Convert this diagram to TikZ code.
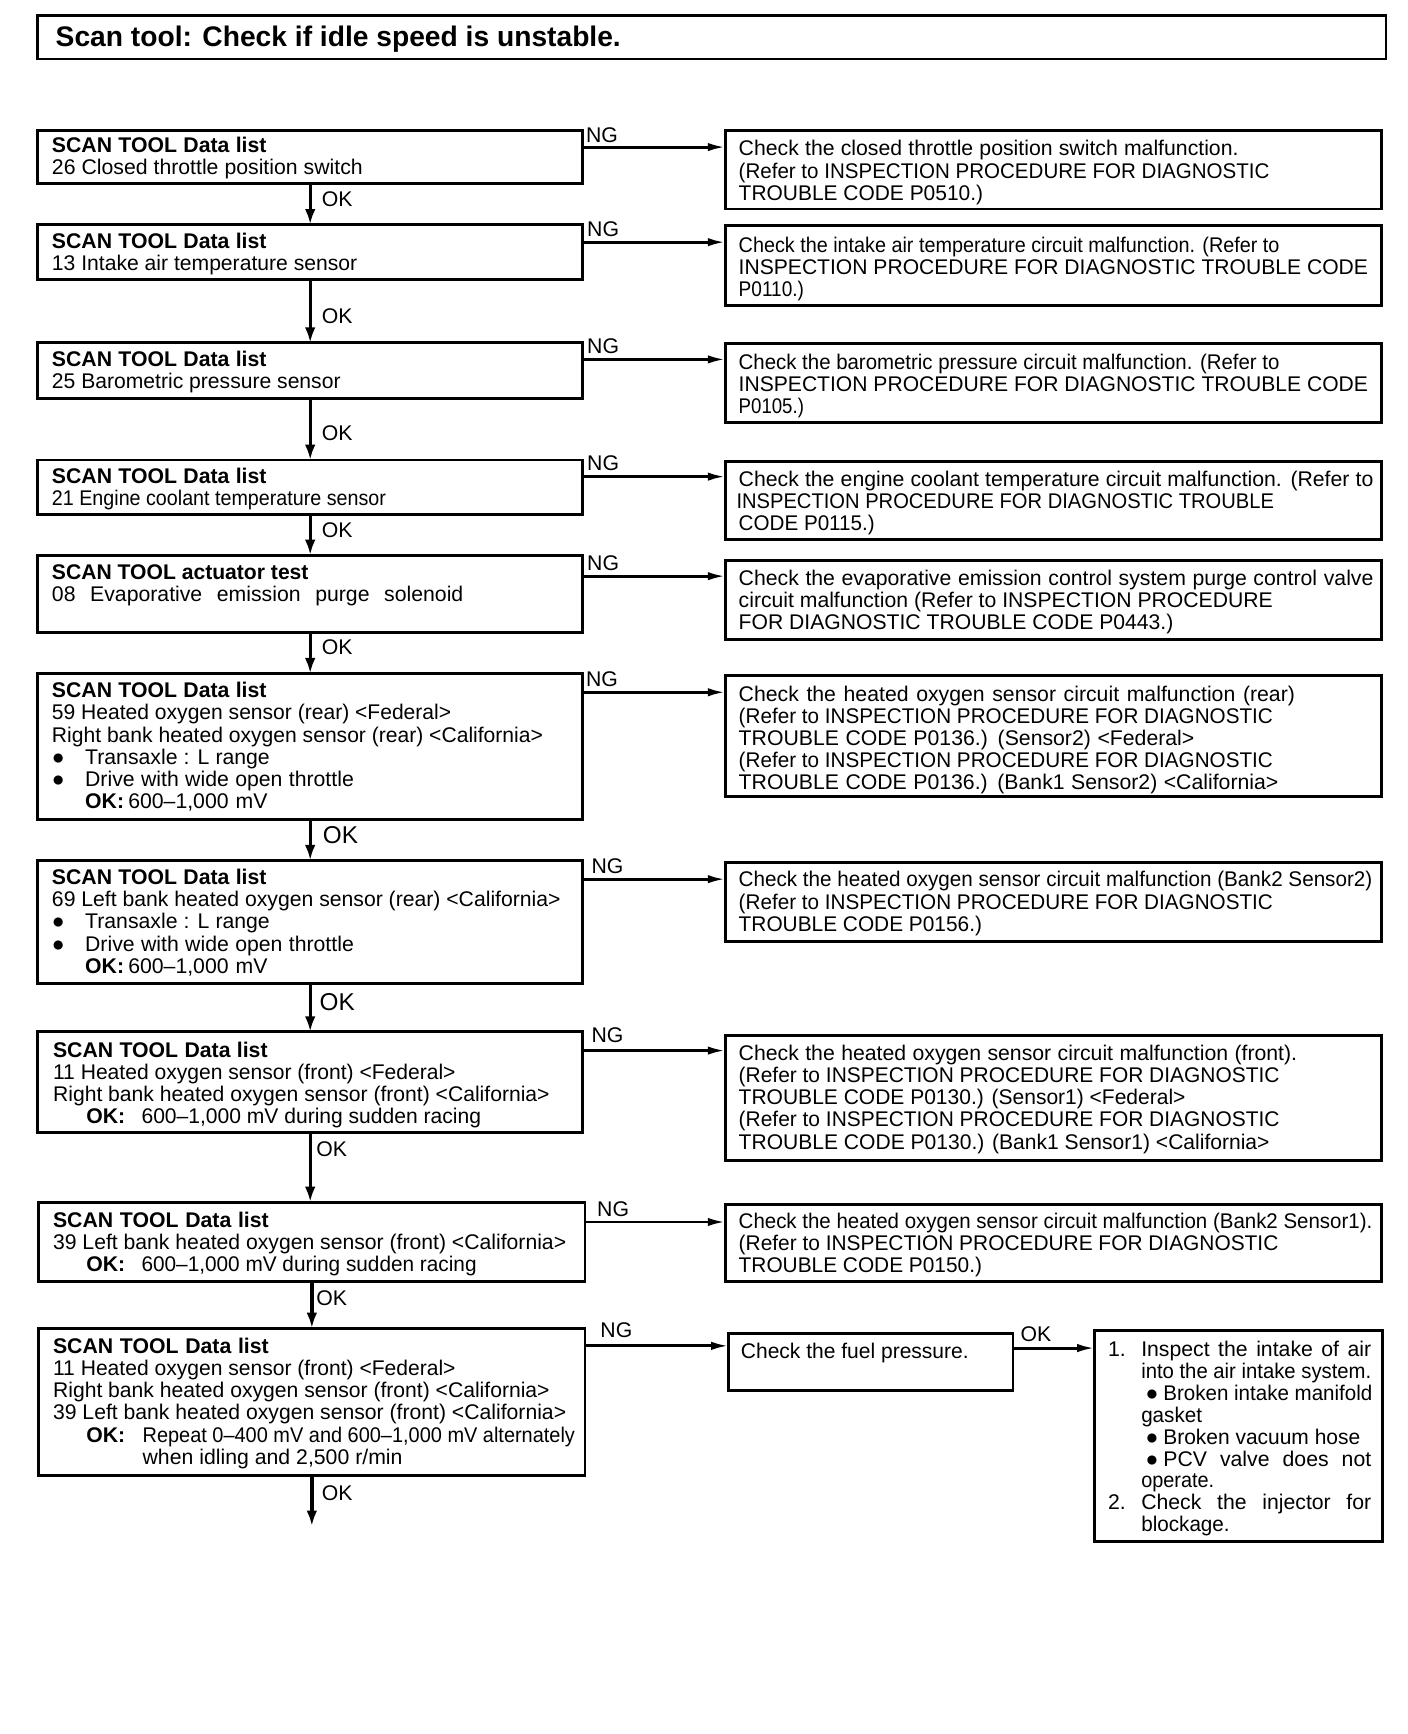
\documentclass[tikz,border=0pt]{standalone}
\usepackage{fontspec}
\setmainfont{Liberation Sans}
\usepackage{graphicx}
\usetikzlibrary{arrows.meta,fit,calc}

\newsavebox\lnbox
\newlength\lnt \newlength\lnw
\newlength\lnA \newlength\lnB \newlength\lnC
\def\lnsx{0}
\newcommand\mybullet{●}
% fit text into a given width: shrink horizontally if too wide, spread spaces if too narrow
\newcommand\fitto[2]{\setlength\lnt{#1}\sbox\lnbox{#2}\setlength\lnw{\wd\lnbox}%
  \ifdim\lnw>\lnt\pgfmathsetmacro\lnff{\lnt/\lnw}\scalebox{\lnff}[1]{\usebox\lnbox}%
  \else\makebox[\lnt][s]{#2}\fi}
% text line from startx to endx (display px)
\newcommand\tline[3]{\pgfmathsetlength\lnA{(#1-\lnsx)*0.5}\pgfmathsetlength\lnB{(#2-#1)*0.5}%
  \hspace*{\lnA}\fitto{\lnB}{#3}}
% bullet line
\newcommand\bline[4]{\pgfmathsetlength\lnA{(#1-\lnsx)*0.5}\pgfmathsetlength\lnB{(#2-#1)*0.5}%
  \pgfmathsetlength\lnC{(#3-#2)*0.5}\hspace*{\lnA}\makebox[\lnB][l]{\mybullet}\fitto{\lnC}{#4}}
% OK line
\newcommand\okline[4]{\pgfmathsetlength\lnA{(#1-\lnsx)*0.5}\pgfmathsetlength\lnB{(#2-#1)*0.5}%
  \pgfmathsetlength\lnC{(#3-#2)*0.5}\hspace*{\lnA}\makebox[\lnB][l]{\textbf{OK:}}\fitto{\lnC}{#4}}
% numbered line
\newcommand\nline[5]{\pgfmathsetlength\lnA{(#1-\lnsx)*0.5}\pgfmathsetlength\lnB{(#2-#1)*0.5}%
  \pgfmathsetlength\lnC{(#3-#2)*0.5}\hspace*{\lnA}\makebox[\lnB][l]{#4}\fitto{\lnC}{#5}}

\newcommand\mkbox[5]{\node[box, fit={(#2,#3) (#4,#5)}] (#1) {};}
\newcommand\mktext[4]{\def\lnsx{#2}\node[txt] (#1) at (#2,#3-18) {\rule{0pt}{9pt}#4};}

\tikzset{
  box/.style={draw, line width=1.3pt, inner sep=0pt, outer sep=0pt},
  txt/.style={anchor=north west, align=left, inner sep=0pt, outer sep=0pt,
    font=\fontsize{9.6}{10}\selectfont},
  lbl/.style={anchor=west, inner sep=0pt, outer sep=0pt, font=\fontsize{9.6}{10}\selectfont},
  biglbl/.style={lbl, font=\fontsize{11}{12}\selectfont},
  okarr/.style={line width=1.5pt, -{Latex[length=7pt,width=4.8pt]}},
  ngarr/.style={line width=1.3pt, -{Latex[length=8pt,width=3.8pt]}}
}

\begin{document}
\begin{tikzpicture}[x=0.5pt,y=-0.5pt]
\fill[white] (0,0) rectangle (1273,1568);
\useasboundingbox (0,0) rectangle (1273,1568);

% title
\node[box, line width=1pt, fit={(34,14) (1253,53)}] (title) {};
\node[anchor=base west, inner sep=0pt, font=\bfseries\fontsize{12.8}{14}\selectfont] (titletext) at (50,42)
  {\fitto{255.5pt}{Scan tool: Check if idle speed is unstable.}};

% left boxes
\mkbox{b1}{34}{118}{527}{166}
\mkbox{b2}{34}{203}{527}{253}
\mkbox{b3}{34}{310}{527}{360}
\mkbox{b4}{34}{416}{527}{465}
\mkbox{b5}{34}{502}{527}{572}
\mkbox{b6}{34}{609}{527}{741}
\mkbox{b7}{34}{778}{527}{889}
\mkbox{b8}{34}{933}{527}{1024}
\mkbox{b9}{35}{1087}{529}{1159}
\mkbox{b10}{35}{1201}{529}{1334}

\mktext{tb1}{47}{138}{\tline{47}{241}{\textbf{SCAN TOOL Data list}}\\
\tline{47}{328}{26 Closed throttle position switch}}
\mktext{tb2}{47}{225}{\tline{47}{241}{\textbf{SCAN TOOL Data list}}\\
\tline{47}{323}{13 Intake air temperature sensor}}
\mktext{tb3}{47}{331}{\tline{47}{241}{\textbf{SCAN TOOL Data list}}\\
\tline{47}{308}{25 Barometric pressure sensor}}
\mktext{tb4}{47}{437}{\tline{47}{241}{\textbf{SCAN TOOL Data list}}\\
\tline{47}{349}{21 Engine coolant temperature sensor}}
\mktext{tb5}{47}{524}{\tline{47}{279}{\textbf{SCAN TOOL actuator test}}\\
\tline{47}{419}{08 Evaporative emission purge solenoid}}
\mktext{tb6}{47}{631}{\tline{47}{241}{\textbf{SCAN TOOL Data list}}\\
\tline{47}{408}{59 Heated oxygen sensor (rear) <Federal>}\\
\tline{47}{491}{Right bank heated oxygen sensor (rear) <California>}\\
\bline{47}{77}{244}{Transaxle : L range}\\
\bline{47}{77}{320}{Drive with wide open throttle}\\
\okline{77}{116}{242}{600–1,000 mV}}
\mktext{tb7}{47}{800}{\tline{47}{241}{\textbf{SCAN TOOL Data list}}\\
\tline{47}{507}{69 Left bank heated oxygen sensor (rear) <California>}\\
\bline{47}{77}{244}{Transaxle : L range}\\
\bline{47}{77}{320}{Drive with wide open throttle}\\
\okline{77}{116}{242}{600–1,000 mV}}
\mktext{tb8}{48}{956}{\tline{48}{242}{\textbf{SCAN TOOL Data list}}\\
\tline{48}{412}{11 Heated oxygen sensor (front) <Federal>}\\
\tline{48}{497}{Right bank heated oxygen sensor (front) <California>}\\
\okline{78}{128}{435}{600–1,000 mV during sudden racing}}
\mktext{tb9}{48}{1110}{\tline{48}{243}{\textbf{SCAN TOOL Data list}}\\
\tline{48}{512}{39 Left bank heated oxygen sensor (front) <California>}\\
\okline{78}{128}{431}{600–1,000 mV during sudden racing}}
\mktext{tb10}{48}{1224}{\tline{48}{243}{\textbf{SCAN TOOL Data list}}\\
\tline{48}{412}{11 Heated oxygen sensor (front) <Federal>}\\
\tline{48}{497}{Right bank heated oxygen sensor (front) <California>}\\
\tline{48}{512}{39 Left bank heated oxygen sensor (front) <California>}\\
\okline{78}{129}{520}{Repeat 0–400 mV and 600–1,000 mV alternately}\\
\tline{129}{364}{when idling and 2,500 r/min}}

% right boxes
\mkbox{r1}{656}{118}{1249}{189}
\mkbox{r2}{656}{204}{1249}{276}
\mkbox{r3}{656}{311}{1249}{382}
\mkbox{r4}{656}{417}{1249}{488}
\mkbox{r5}{656}{507}{1249}{578}
\mkbox{r6}{656}{611}{1249}{720}
\mkbox{r7}{656}{780}{1249}{851}
\mkbox{r8}{656}{936}{1249}{1049}
\mkbox{r9}{656}{1089}{1249}{1159}
\mkbox{fuel}{659}{1206}{916}{1257}
\mkbox{fin}{990}{1203}{1250}{1394}

\mktext{tr1}{668}{141}{\tline{668}{1120}{Check the closed throttle position switch malfunction.}\\
\tline{668}{1148}{(Refer to INSPECTION PROCEDURE FOR DIAGNOSTIC}\\
\tline{668}{889}{TROUBLE CODE P0510.)}}
\mktext{tr2}{668}{228}{\tline{668}{1157}{Check the intake air temperature circuit malfunction. (Refer to}\\
\tline{668}{1237}{INSPECTION PROCEDURE FOR DIAGNOSTIC TROUBLE CODE}\\
\tline{668}{727}{P0110.)}}
\mktext{tr3}{668}{334}{\tline{668}{1157}{Check the barometric pressure circuit malfunction. (Refer to}\\
\tline{668}{1237}{INSPECTION PROCEDURE FOR DIAGNOSTIC TROUBLE CODE}\\
\tline{668}{727}{P0105.)}}
\mktext{tr4}{668}{440}{\tline{668}{1242}{Check the engine coolant temperature circuit malfunction. (Refer to}\\
\tline{666}{1152}{INSPECTION PROCEDURE FOR DIAGNOSTIC TROUBLE}\\
\tline{668}{791}{CODE P0115.)}}
\mktext{tr5}{668}{529}{\tline{668}{1242}{Check the evaporative emission control system purge control valve}\\
\tline{668}{1151}{circuit malfunction (Refer to INSPECTION PROCEDURE}\\
\tline{668}{1061}{FOR DIAGNOSTIC TROUBLE CODE P0443.)}}
\mktext{tr6}{668}{634}{\tline{668}{1171}{Check the heated oxygen sensor circuit malfunction (rear)}\\
\tline{668}{1151}{(Refer to INSPECTION PROCEDURE FOR DIAGNOSTIC}\\
\tline{668}{1080}{TROUBLE CODE P0136.) (Sensor2) <Federal>}\\
\tline{668}{1151}{(Refer to INSPECTION PROCEDURE FOR DIAGNOSTIC}\\
\tline{668}{1156}{TROUBLE CODE P0136.) (Bank1 Sensor2) <California>}}
\mktext{tr7}{668}{802}{\tline{668}{1241}{Check the heated oxygen sensor circuit malfunction (Bank2 Sensor2)}\\
\tline{668}{1151}{(Refer to INSPECTION PROCEDURE FOR DIAGNOSTIC}\\
\tline{668}{888}{TROUBLE CODE P0156.)}}
\mktext{tr8}{668}{959}{\tline{668}{1173}{Check the heated oxygen sensor circuit malfunction (front).}\\
\tline{668}{1157}{(Refer to INSPECTION PROCEDURE FOR DIAGNOSTIC}\\
\tline{668}{1072}{TROUBLE CODE P0130.) (Sensor1) <Federal>}\\
\tline{668}{1157}{(Refer to INSPECTION PROCEDURE FOR DIAGNOSTIC}\\
\tline{668}{1148}{TROUBLE CODE P0130.) (Bank1 Sensor1) <California>}}
\mktext{tr9}{668}{1111}{\tline{668}{1241}{Check the heated oxygen sensor circuit malfunction (Bank2 Sensor1).}\\
\tline{668}{1156}{(Refer to INSPECTION PROCEDURE FOR DIAGNOSTIC}\\
\tline{668}{888}{TROUBLE CODE P0150.)}}
\mktext{tfuel}{670}{1228}{\tline{670}{876}{Check the fuel pressure.}}
\def\lnsx{1002}
\node[txt, font=\fontsize{9.6}{9.875}\selectfont] (tfin) at (1002,1227-18) {\rule{0pt}{9pt}%
\nline{1002}{1032}{1240}{1.}{Inspect the intake of air}\\
\tline{1032}{1240}{into the air intake system.}\\
\bline{1036}{1052}{1241}{Broken intake manifold}\\
\tline{1032}{1087}{gasket}\\
\bline{1036}{1052}{1230}{Broken vacuum hose}\\
\bline{1036}{1052}{1240}{PCV valve does not}\\
\tline{1032}{1098}{operate.}\\
\nline{1002}{1032}{1240}{2.}{Check the injector for}\\
\tline{1032}{1112}{blockage.}};

% vertical OK arrows
\draw[okarr] (b1.south) -- (b1.south |- b2.north);
\draw[okarr] (b2.south) -- (b2.south |- b3.north);
\draw[okarr] (b3.south) -- (b3.south |- b4.north);
\draw[okarr] (b4.south) -- (b4.south |- b5.north);
\draw[okarr] (b5.south) -- (b5.south |- b6.north);
\draw[okarr] (b6.south) -- (b6.south |- b7.north);
\draw[okarr] (b7.south) -- (b7.south |- b8.north);
\draw[okarr] (b8.south) -- (b8.south |- b9.north);
\draw[okarr] (b9.south) -- (b9.south |- b10.north);
\coordinate (endpt) at (281,1380);
\draw[okarr] (b10.south) -- (b10.south |- endpt);

\node[lbl] (ok1) at (291,180) {OK};
\node[lbl] (ok2) at (291,286) {OK};
\node[lbl] (ok3) at (291,392) {OK};
\node[lbl] (ok4) at (291,479) {OK};
\node[lbl] (ok5) at (291,585) {OK};
\node[biglbl] (ok6) at (292,755) {OK};
\node[biglbl] (ok7) at (289,906) {OK};
\node[lbl] (ok8) at (286,1039) {OK};
\node[lbl] (ok9) at (286,1174) {OK};
\node[lbl] (ok10) at (291,1350) {OK};

% NG arrows
\foreach \i/\y in {1/133,2/219,3/325,4/431,5/521,6/626,7/795,8/950,9/1105}{
  \coordinate (ny\i) at (0,\y);
  \draw[ngarr] (b\i.east |- ny\i) -- (r\i.west |- ny\i);
}
\coordinate (ny10) at (0,1217);
\draw[ngarr] (b10.east |- ny10) -- (fuel.west |- ny10);
\coordinate (ny11) at (0,1219);
\draw[ngarr] (fuel.east |- ny11) -- (fin.west |- ny11);

\node[lbl] (ng1) at (530,122) {NG};
\node[lbl] (ng2) at (531,207) {NG};
\node[lbl] (ng3) at (531,313) {NG};
\node[lbl] (ng4) at (531,419) {NG};
\node[lbl] (ng5) at (531,509) {NG};
\node[lbl] (ng6) at (530,614) {NG};
\node[lbl] (ng7) at (535,783) {NG};
\node[lbl] (ng8) at (535,936) {NG};
\node[lbl] (ng9) at (540,1093) {NG};
\node[lbl] (ng10) at (543,1203) {NG};
\node[lbl] (okf) at (923,1206) {OK};
\end{tikzpicture}
\end{document}
